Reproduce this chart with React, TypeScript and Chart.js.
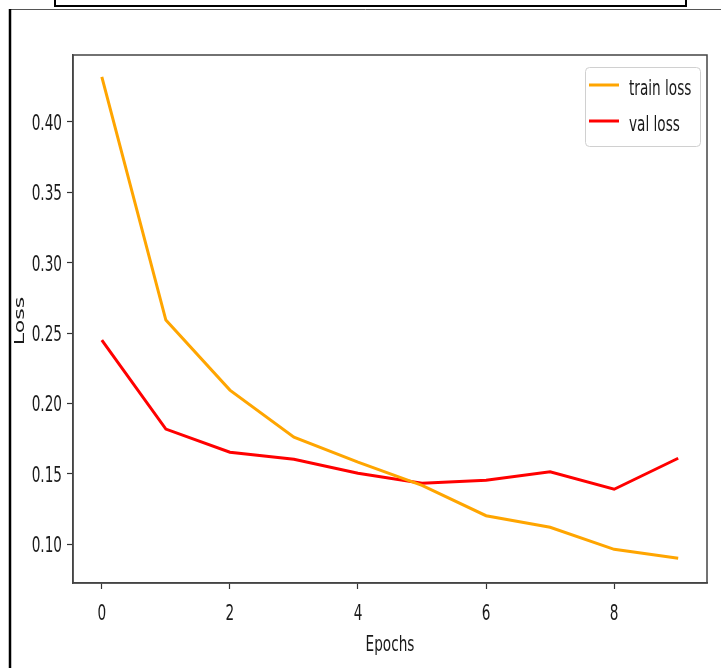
import React, { useEffect, useRef } from "react";
import { Chart, registerables } from "chart.js";

Chart.register(...registerables);

const epochs = [0, 1, 2, 3, 4, 5, 6, 7, 8, 9];
const trainLoss = [0.432, 0.2592, 0.2095, 0.1761, 0.1583, 0.1419, 0.1203, 0.1121, 0.0964, 0.09];
const valLoss = [0.245, 0.1818, 0.1654, 0.1604, 0.1505, 0.1434, 0.1455, 0.1515, 0.1391, 0.1611];
const xTicks = [0, 2, 4, 6, 8];
const yTicks = [0.1, 0.15, 0.2, 0.25, 0.3, 0.35, 0.4];
const seriesNames = ["train loss", "val loss"];
const seriesColors = ["#FFA500", "#FF0000"];
const xTitle = "Epochs";
const yTitle = "Loss";

const FONT = '22px "DejaVu Sans"';
const SX = 0.62;
const TEXT = "#1a1a1a";

function squeezed(ctx: CanvasRenderingContext2D, text: string, x: number, y: number, align: CanvasTextAlign) {
  ctx.save();
  ctx.translate(x, y);
  ctx.scale(SX, 1);
  ctx.textAlign = align;
  ctx.textBaseline = "alphabetic";
  ctx.fillText(text, 0, 0);
  ctx.restore();
}

const decor = {
  id: "decor",
  beforeDraw(chart: any) {
    const ctx: CanvasRenderingContext2D = chart.ctx;
    ctx.save();
    ctx.fillStyle = "#fff";
    ctx.fillRect(0, 0, chart.width, chart.height);
    ctx.strokeStyle = "#000";
    ctx.lineWidth = 2;
    ctx.strokeRect(55, -5, 631, 11);
    ctx.strokeStyle = "#555";
    ctx.lineWidth = 1;
    ctx.beginPath();
    ctx.moveTo(10, 9.5);
    ctx.lineTo(chart.width, 9.5);
    ctx.stroke();
    ctx.strokeStyle = "#000";
    ctx.lineWidth = 2.5;
    ctx.beginPath();
    ctx.moveTo(10, 9);
    ctx.lineTo(10, chart.height);
    ctx.stroke();
    ctx.restore();
  },
  afterDraw(chart: any) {
    const ctx: CanvasRenderingContext2D = chart.ctx;
    const a = chart.chartArea;
    const xs = chart.scales.x;
    const ys = chart.scales.y;
    ctx.save();
    ctx.strokeStyle = "#444";
    ctx.lineWidth = 1.5;
    ctx.strokeRect(a.left, a.top, a.right - a.left, a.bottom - a.top);

    ctx.font = FONT;
    ctx.fillStyle = TEXT;
    ys.ticks.forEach((t: any) => {
      const y = ys.getPixelForValue(t.value);
      squeezed(ctx, t.value.toFixed(2), 62, y + 8, "right");
    });
    xs.ticks.forEach((t: any) => {
      const x = xs.getPixelForValue(t.value);
      squeezed(ctx, String(t.value), x, 620, "center");
    });
    squeezed(ctx, xTitle, (a.left + a.right) / 2, 651, "center");

    ctx.save();
    ctx.translate(24, 321);
    ctx.rotate(-Math.PI / 2);
    ctx.scale(1, SX);
    ctx.textAlign = "center";
    ctx.textBaseline = "alphabetic";
    ctx.fillText(yTitle, 0, 0);
    ctx.restore();

    // legend
    const bx = 585.5, by = 67.5, bw = 115, bh = 79;
    ctx.beginPath();
    (ctx as any).roundRect(bx, by, bw, bh, 4);
    ctx.fillStyle = "rgba(255,255,255,0.85)";
    ctx.fill();
    ctx.strokeStyle = "#d0d0d0";
    ctx.lineWidth = 1;
    ctx.stroke();
    seriesNames.forEach((name, i) => {
      const y = 85 + i * 36;
      ctx.strokeStyle = seriesColors[i];
      ctx.lineWidth = 3;
      ctx.beginPath();
      ctx.moveTo(589, y);
      ctx.lineTo(619, y);
      ctx.stroke();
      ctx.fillStyle = TEXT;
      squeezed(ctx, name, 629, y + 10, "left");
    });
    ctx.restore();
  },
};

export default function App() {
  const ref = useRef<HTMLCanvasElement>(null);
  useEffect(() => {
    document.body.style.margin = "0";
    const canvas = ref.current!;
    const gridOpts = {
      drawOnChartArea: false,
      drawTicks: true,
      tickLength: 6,
      tickColor: "#333",
      tickWidth: 1.2,
    };
    const chart = new Chart(canvas, {
      type: "line",
      data: {
        datasets: [trainLoss, valLoss].map((vals, i) => ({
          label: seriesNames[i],
          data: epochs.map((e, j) => ({ x: e, y: vals[j] })),
          borderColor: seriesColors[i],
          backgroundColor: seriesColors[i],
          borderWidth: 3,
          pointRadius: 0,
          tension: 0,
          fill: false,
        })),
      },
      options: {
        responsive: false,
        animation: false,
        devicePixelRatio: 1,
        layout: { padding: { left: 0, top: 55, right: 14, bottom: 0 } },
        plugins: { legend: { display: false }, tooltip: { enabled: false } },
        scales: {
          x: {
            type: "linear",
            min: -0.45,
            max: 9.45,
            afterBuildTicks: (s: any) => {
              s.ticks = xTicks.map((v) => ({ value: v }));
            },
            afterFit: (s: any) => {
              s.height = 85;
            },
            ticks: { display: false },
            grid: gridOpts,
            border: { display: true, color: "#444", width: 1.5 },
          },
          y: {
            type: "linear",
            min: 0.0725,
            max: 0.4475,
            afterBuildTicks: (s: any) => {
              s.ticks = yTicks.map((v) => ({ value: v }));
            },
            afterFit: (s: any) => {
              s.width = 73;
            },
            ticks: { display: false },
            grid: gridOpts,
            border: { display: true, color: "#444", width: 1.5 },
          },
        },
      } as any,
      plugins: [decor],
    });
    return () => chart.destroy();
  }, []);
  return <canvas ref={ref} width={721} height={668} style={{ display: "block" }} />;
}
